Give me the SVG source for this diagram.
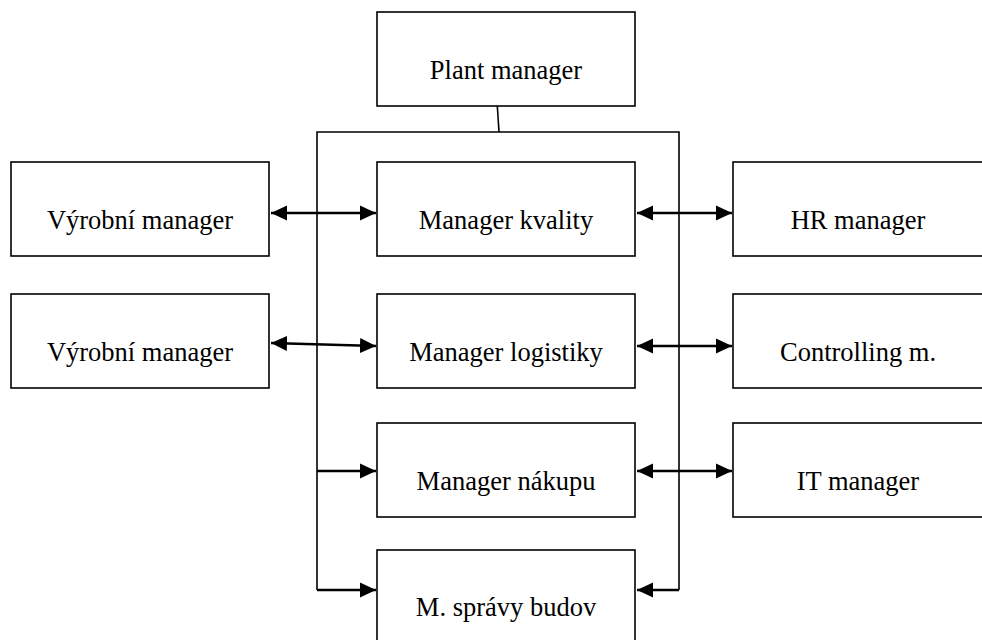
<svg xmlns="http://www.w3.org/2000/svg" width="982" height="640" viewBox="0 0 982 640">
<style>
.box{fill:#fff;stroke:#000;stroke-width:1.6}
.ln{fill:none;stroke:#000;stroke-width:1.6}
.ar{fill:none;stroke:#000;stroke-width:2.4}
text{font-family:"Liberation Serif","Times New Roman",serif;font-size:26.5px;text-anchor:middle;fill:#000}
</style>
<defs>
<marker id="ah" markerUnits="userSpaceOnUse" markerWidth="17" markerHeight="17" viewBox="0 0 17 17" refX="16" refY="8.5" orient="auto-start-reverse">
<path d="M0,1 L16,8.5 L0,16 Z" fill="#000"/>
</marker>
</defs>
<rect width="982" height="640" fill="#fff"/>
<g id="connectors">
<line class="ln" x1="497" y1="101" x2="499" y2="132"/>
<polyline class="ln" points="317,590 317,132 679,132 679,590"/>
<line class="ar" x1="271" y1="213" x2="376" y2="213" marker-start="url(#ah)" marker-end="url(#ah)"/>
<line class="ar" x1="271" y1="343" x2="376" y2="346" marker-start="url(#ah)" marker-end="url(#ah)"/>
<line class="ar" x1="317" y1="471" x2="376" y2="471" marker-end="url(#ah)"/>
<line class="ar" x1="317" y1="590" x2="376" y2="590" marker-end="url(#ah)"/>
<line class="ar" x1="637" y1="213" x2="732" y2="213" marker-start="url(#ah)" marker-end="url(#ah)"/>
<line class="ar" x1="637" y1="346" x2="732" y2="346" marker-start="url(#ah)" marker-end="url(#ah)"/>
<line class="ar" x1="637" y1="471" x2="732" y2="471" marker-start="url(#ah)" marker-end="url(#ah)"/>
<line class="ar" x1="679" y1="590" x2="637" y2="590" marker-end="url(#ah)"/>
</g>
<g id="plant"><rect class="box" x="377" y="12" width="258" height="94"/><text x="506" y="79">Plant manager</text></g>
<g id="kvality"><rect class="box" x="377" y="162" width="258" height="94"/><text x="506" y="229">Manager kvality</text></g>
<g id="logistiky"><rect class="box" x="377" y="294" width="258" height="94"/><text x="506" y="361">Manager logistiky</text></g>
<g id="nakupu"><rect class="box" x="377" y="423" width="258" height="94"/><text x="506" y="490">Manager nákupu</text></g>
<g id="budov"><rect class="box" x="377" y="550" width="258" height="94"/><text x="506" y="616">M. správy budov</text></g>
<g id="vyrobni1"><rect class="box" x="11" y="162" width="258" height="94"/><text x="140" y="229">Výrobní manager</text></g>
<g id="vyrobni2"><rect class="box" x="11" y="294" width="258" height="94"/><text x="140" y="361">Výrobní manager</text></g>
<g id="hr"><rect class="box" x="733" y="162" width="258" height="94"/><text x="858" y="229">HR manager</text></g>
<g id="controlling"><rect class="box" x="733" y="294" width="258" height="94"/><text x="858" y="361">Controlling m.</text></g>
<g id="it"><rect class="box" x="733" y="423" width="258" height="94"/><text x="858" y="490">IT manager</text></g>
</svg>
